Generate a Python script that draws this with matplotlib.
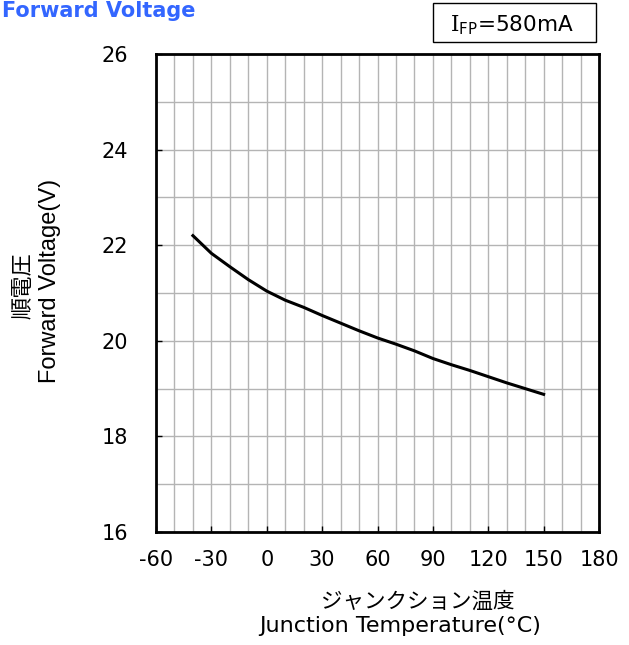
import numpy as np
import matplotlib
matplotlib.use('Agg')
import matplotlib.pyplot as plt
from matplotlib.patches import Rectangle

plt.rcParams['font.family'] = ['DejaVu Sans', 'Noto Sans CJK JP']
plt.rcParams['axes.unicode_minus'] = False
plt.rcParams['mathtext.fontset'] = 'dejavuserif'

# data
temp = [-40, -30, -20, -10, 0, 10, 20, 30, 40, 50, 60, 70, 80, 90, 100, 110, 120, 130, 140, 150]
vf = [22.20, 21.83, 21.55, 21.28, 21.04, 20.85, 20.70, 20.53, 20.37, 20.21,
      20.06, 19.93, 19.79, 19.63, 19.50, 19.38, 19.25, 19.12, 19.00, 18.88]

xticks = [-60, -30, 0, 30, 60, 90, 120, 150, 180]
yticks = [16, 18, 20, 22, 24, 26]

W, H = 629, 645
fig = plt.figure(figsize=(W/100, H/100), dpi=100)
ax = fig.add_axes([156/W, 1-532/H, (599-156)/W, (532-54)/H])

ax.plot(temp, vf, color='black', lw=2.2, zorder=3)

ax.set_xlim(-60, 180)
ax.set_ylim(16, 26)
ax.set_xticks(xticks)
ax.set_yticks(yticks)
ax.set_xticks(np.arange(-60, 181, 10), minor=True)
ax.set_yticks(np.arange(16, 26.1, 1), minor=True)
ax.grid(which='both', color='#b4b4b4', lw=1)
ax.tick_params(which='major', direction='in', length=4, width=1, labelsize=15, pad=13, color='black')
ax.tick_params(which='minor', length=0)
ax.tick_params(axis='y', pad=20)
for s in ax.spines.values():
    s.set_linewidth(2)
    s.set_zorder(4)

# title
fig.text(2/W, 1-17/H, 'Forward Voltage', color='#3366ff', fontsize=15,
         fontweight='bold', ha='left', va='baseline')

# condition box
fig.patches.append(Rectangle((433/W, 1-42/H), (596-433)/W, 39/H, transform=fig.transFigure,
                             fc='white', ec='black', lw=1))
fig.text(450/W, 1-31.5/H, r'$\mathrm{I}_{\mathsf{FP}}$=580mA', fontsize=15.5,
         ha='left', va='baseline')

# y label
fig.text(24/W, 1-286/H, '順電圧', rotation=90, fontsize=16,
         family=['Liberation Sans', 'Noto Sans CJK JP'], ha='center', va='center')
fig.text(50/W, 1-280.5/H, 'Forward Voltage(V)', rotation=90, fontsize=17,
         family=['Liberation Sans', 'Noto Sans CJK JP'], ha='center', va='center')

# x label
fig.text(418/W, 1-602/H, 'ジャンクション温度', fontsize=15.5,
         ha='center', va='center')
fig.text(400/W, 1-626/H, 'Junction Temperature(°C)', fontsize=16,
         ha='center', va='center')

fig.savefig('out.png', dpi=100)
